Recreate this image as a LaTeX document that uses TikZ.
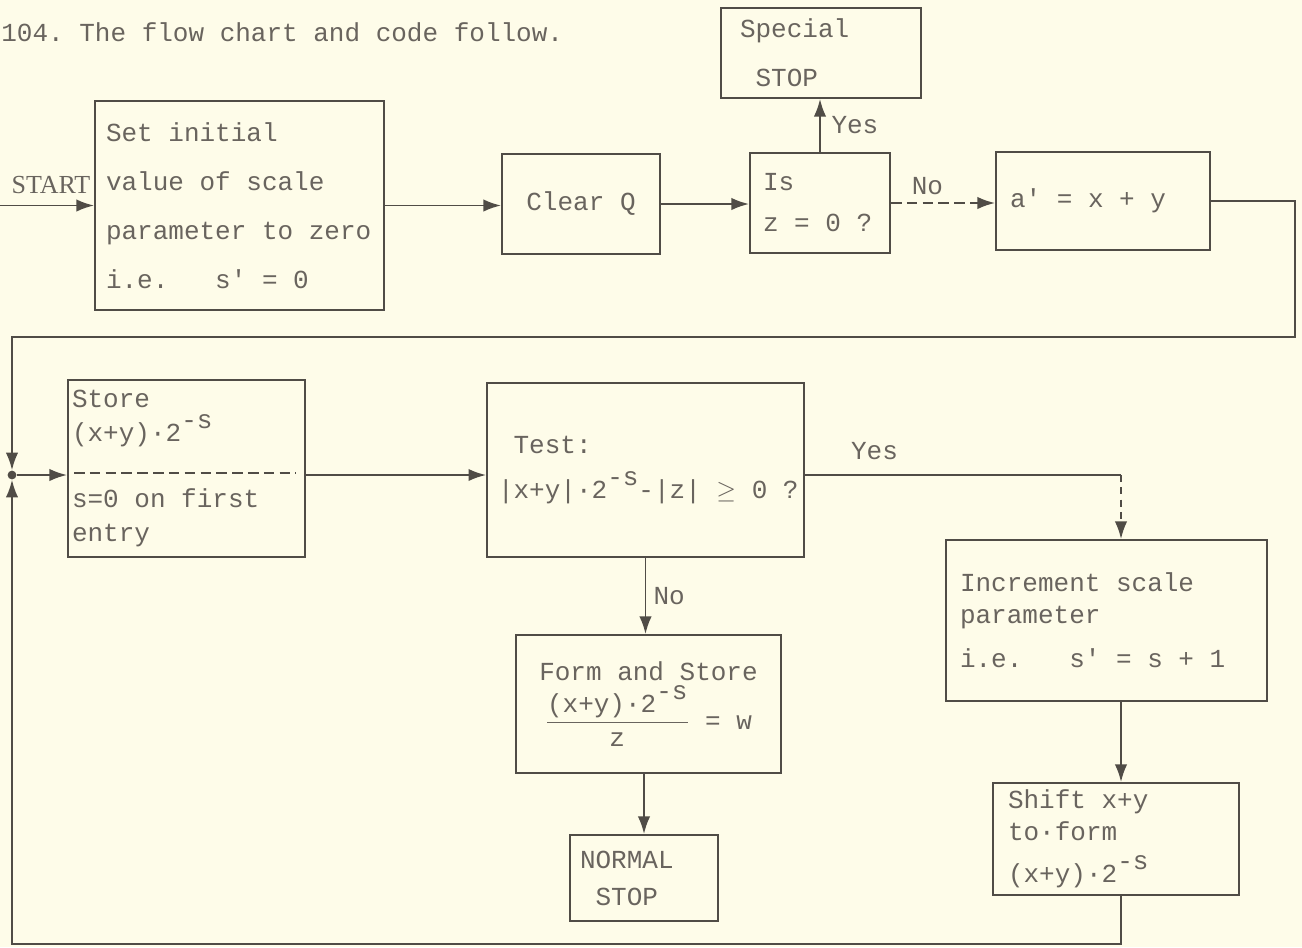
\documentclass[tikz,border=0pt]{standalone}
\usepackage{amsmath}
\usepackage{fontspec}
\setmainfont{Liberation Serif}
\setmonofont{Liberation Mono}
\usepackage{tikz}
\usetikzlibrary{arrows.meta,positioning,calc}
\definecolor{paper}{RGB}{254,252,233}
\definecolor{ink}{RGB}{80,76,70}
\definecolor{type}{RGB}{105,100,94}
\newcommand{\tw}{\ttfamily\fontsize{14.8}{27.8}\selectfont}
\newcommand{\msup}[1]{\smash{\raisebox{0.5em}{#1}}}

\begin{document}
\begin{tikzpicture}[x=0.02cm, y=-0.02cm,
    box/.style={draw=ink, line width=1.1pt, text=type, inner sep=0pt, align=flush left, font=\tw},
    flow/.style={draw=ink, line width=1.1pt, -{Latex[length=10pt,width=7pt]}},
    line/.style={draw=ink, line width=1.1pt},
    lbl/.style={text=type, inner sep=0pt, font=\tw},
    dot/.style={circle, fill=ink, inner sep=0pt, minimum size=5pt}
]
    % Paper
    \fill[paper] (0,0) rectangle (1302,947);
    \useasboundingbox (0,0) rectangle (1302,947);

    \node[lbl, anchor=west] (title) at (1,32) {104. The flow chart and code follow.};

    % Top row
    \node[box, minimum width=5.78cm, minimum height=4.18cm, text width=5.34cm] (set) at (239.5,205.5)
        {Set initial\\value of scale\\parameter to zero\\i.e.~~~s' = 0};
    \node[box, minimum width=3.16cm, minimum height=2cm, align=center] (clear) at (581,204) {Clear Q};
    \node[box, minimum width=2.8cm, minimum height=2cm, text width=2.28cm,
        font=\ttfamily\fontsize{14.8}{23.3}\selectfont] (is) at (820,203) {Is\\z = 0 ?};
    \node[box, minimum width=4cm, minimum height=1.8cm, text width=3.24cm] (special) at (821,53) {Special\\~STOP};
    \node[box, minimum width=4.28cm, minimum height=1.96cm, text width=3.72cm] (aprime) at (1103,201) {a' = x + y};

    % Middle row
    \node[box, minimum width=4.74cm, minimum height=3.54cm, text width=4.58cm,
        font=\ttfamily\fontsize{14.8}{19.3}\selectfont] (store) at (186.5,468.5)
        {Store\\(x+y)·2\msup{-s}\\[18pt]s=0 on first\\entry};
    \draw[ink, line width=1.1pt, dash pattern=on 6pt off 3pt]
        ($(store.west)+(7,4.5)$) -- ($(store.east)+(-10,4.5)$);
    \node[box, minimum width=6.34cm, minimum height=3.48cm, text width=5.9cm,
        font=\ttfamily\fontsize{14.8}{25.5}\selectfont] (test) at (645.5,470)
        {~Test:\\\mbox{|x+y|·2\msup{-s}-|z| $\geq$ 0 ?}};
    \node[box, minimum width=6.42cm, minimum height=3.22cm, text width=5.86cm,
        font=\ttfamily\fontsize{14.8}{18.2}\selectfont] (incr) at (1106.5,620.5)
        {Increment scale\\parameter\\[7pt]i.e.~~~s' = s + 1};

    % Bottom row
    \node[box, minimum width=5.3cm, minimum height=2.76cm, align=center] (form) at (648.5,704)
        {Form and Store\\$\dfrac{\text{(x+y)·2\msup{-s}}}{\text{z}}$ = w};
    \node[box, minimum width=2.96cm, minimum height=1.72cm, text width=2.56cm,
        font=\ttfamily\fontsize{14.8}{21}\selectfont] (normal) at (644,878) {NORMAL\\~STOP};
    \node[box, minimum width=4.92cm, minimum height=2.24cm, text width=4.32cm,
        font=\ttfamily\fontsize{14.8}{18.2}\selectfont] (shift) at (1116,839)
        {Shift x+y\\to·form\\[6pt](x+y)·2\msup{-s}};

    % Start
    \node[lbl, font=\rmfamily\fontsize{14.8}{18}\selectfont] (startlbl) at (51,185) {START};
    \coordinate (start) at (0,205.5);
    \draw[flow] (start) -- (set.west);

    % Connectors
    \draw[flow] (set.east) -- (set.east -| clear.west);
    \draw[flow] (clear.east) -- (clear.east -| is.west);
    \draw[flow] (is.north) -- (is.north |- special.south) node[lbl, midway, right=6pt] (yes1) {Yes};
    \draw[flow, dash pattern=on 6pt off 3pt] (is.east) -- (is.east -| aprime.west)
        node[lbl, pos=0.35, above=4pt] (no1) {No};

    % Loop back to the store box
    \node[dot] (jn) at (12,475) {};
    \coordinate (tr) at (1295,337);
    \draw[flow] (aprime.east) -| (tr) -| (jn.north);
    \draw[flow] (jn) -- (jn -| store.west);
    \draw[flow] (store.east |- jn) -- (test.west |- jn);

    \coordinate (rcol) at (1121,475);
    \draw[line] (test.east |- jn) -- (rcol) node[lbl, pos=0.22, above=8pt] (yes2) {Yes};
    \draw[flow, dash pattern=on 4pt off 3pt] (rcol) -- (rcol |- incr.north);
    \draw[flow] (test.south) -- (test.south |- form.north) node[lbl, midway, right=4pt] (no2) {No};
    \draw[flow] (normal.north |- form.south) -- (normal.north);
    \draw[flow] (rcol |- incr.south) -- (rcol |- shift.north);

    \coordinate (br) at (1121,944);
    \coordinate (bl) at (12,944);
    \draw[flow] (rcol |- shift.south) -- (br) -- (bl) -- (jn.south);
\end{tikzpicture}
\end{document}
